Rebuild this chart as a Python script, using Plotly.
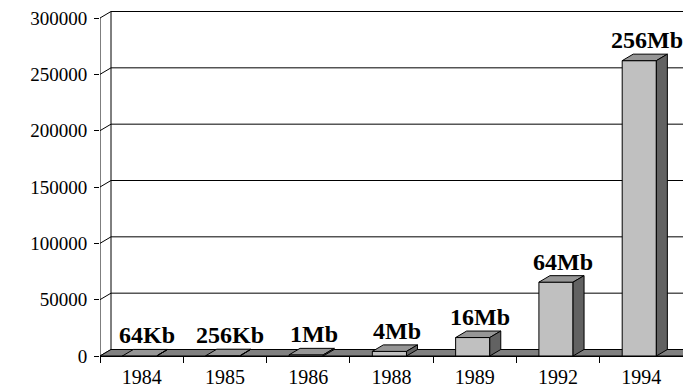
import plotly.graph_objects as go

# DRAM chip capacity by year of introduction (values in Kb)
years = ["1984", "1985", "1986", "1988", "1989", "1992", "1994"]
capacity_kb = [64, 256, 1024, 4096, 16384, 65536, 262144]
capacity_labels = ["64Kb", "256Kb", "1Mb", "4Mb", "16Mb", "64Mb", "256Mb"]
y_ticks = [0, 50000, 100000, 150000, 200000, 250000, 300000]
y_tick_text = ["0", "50000", "100000", "150000", "200000", "250000", "300000"]

# ---- geometry ----
W, H = 683, 392
M_L, M_B = 100, 36
plot_w = W - M_L
plot_h = H - M_B
y_max_tick = y_ticks[-1]
TOP_TICK_PX = 18                      # distance of the top tick from the page top
px_per_unit = (plot_h - TOP_TICK_PX) / y_max_tick
y_range_top = plot_h / px_per_unit

n = len(years)
x_lo, x_hi = -0.5, n - 0.5
px_per_cat = plot_w / n

# depth offset used for the pseudo-3D faces
DEPTH_X_PX, DEPTH_Y_PX = 11, 6.5
dx = DEPTH_X_PX / px_per_cat
dy = DEPTH_Y_PX / px_per_unit

BAR_W = 0.41
BAR_OFF = -0.025

FRONT = "#c0c0c0"
TOP = "#969696"
SIDE = "#626262"
FLOOR = "#808080"
FONT = "Liberation Serif"

xs = [i + BAR_OFF for i in range(n)]

fig = go.Figure()

# front faces of the columns
fig.add_trace(go.Bar(
    x=xs, y=capacity_kb, width=BAR_W,
    marker=dict(color=FRONT, line=dict(color="black", width=1)),
    hoverinfo="skip",
))

# top and right-side faces built from the same values
top_x, top_y, side_x, side_y = [], [], [], []
for x, v in zip(xs, capacity_kb):
    x0, x1 = x - BAR_W / 2, x + BAR_W / 2
    top_x += [x0, x1, x1 + dx, x0 + dx, x0, None]
    top_y += [v, v, v + dy, v + dy, v, None]
    side_x += [x1, x1 + dx, x1 + dx, x1, x1, None]
    side_y += [0, dy, v + dy, v, 0, None]

fig.add_trace(go.Scatter(
    x=top_x, y=top_y, mode="lines", fill="toself", fillcolor=TOP,
    line=dict(color="black", width=1), hoverinfo="skip",
))
fig.add_trace(go.Scatter(
    x=side_x, y=side_y, mode="lines", fill="toself", fillcolor=SIDE,
    line=dict(color="black", width=1), hoverinfo="skip",
))

# front vertical axis line
fig.add_trace(go.Scatter(
    x=[x_lo, x_lo], y=[0, y_max_tick], mode="lines",
    line=dict(color="black", width=1), cliponaxis=False, hoverinfo="skip",
))

# back wall, gridlines and floor
shapes = []
line_style = dict(color="black", width=1)
shapes.append(dict(type="line", xref="x", yref="y", layer="below",
                   x0=x_lo + dx, x1=x_lo + dx, y0=dy, y1=y_max_tick + dy,
                   line=line_style))
for v in y_ticks:
    shapes.append(dict(type="line", xref="x", yref="y", layer="below",
                       x0=x_lo, x1=x_lo + dx, y0=v, y1=v + dy, line=line_style))
    if v > 0:
        shapes.append(dict(type="line", xref="x", yref="y", layer="below",
                           x0=x_lo + dx, x1=x_hi, y0=v + dy, y1=v + dy,
                           line=line_style))
shapes.append(dict(type="path", xref="x", yref="y", layer="below",
                   path=f"M {x_lo},0 L {x_hi},0 L {x_hi + dx},{dy} L {x_lo + dx},{dy} Z",
                   fillcolor=FLOOR, line=line_style))

# value labels
annotations = []
for x, v, lab in zip(xs, capacity_kb, capacity_labels):
    annotations.append(dict(
        x=x + 0.09, y=v + dy, xref="x", yref="y", text=f"<b>{lab}</b>",
        showarrow=False, yanchor="bottom", yshift=-1,
        font=dict(family=FONT, size=24, color="black"),
    ))

fig.update_layout(
    width=W, height=H,
    margin=dict(l=M_L, r=0, t=0, b=M_B, pad=0),
    paper_bgcolor="white", plot_bgcolor="white",
    showlegend=False,
    shapes=shapes,
    annotations=annotations,
    xaxis=dict(
        range=[x_lo, x_hi], tickmode="array", tickvals=list(range(n)),
        ticktext=years, ticks="", showgrid=False, zeroline=False,
        showline=True, linecolor="black", linewidth=1,
        tickfont=dict(family=FONT, size=20, color="black"),
        ticklabelstandoff=3,
        minor=dict(tickmode="array", tickvals=[k - 0.5 for k in range(n + 1)],
                   ticks="outside", ticklen=6, tickcolor="black", tickwidth=1,
                   showgrid=False),
    ),
    yaxis=dict(
        range=[0, y_range_top], tickmode="array", tickvals=y_ticks,
        ticktext=y_tick_text,
        ticks="outside", ticklen=5, tickcolor="black", tickwidth=1,
        showgrid=False, zeroline=False, showline=False,
        tickfont=dict(family=FONT, size=19, color="black"),
        ticklabelstandoff=3,
    ),
)

fig.write_html("out.html")
